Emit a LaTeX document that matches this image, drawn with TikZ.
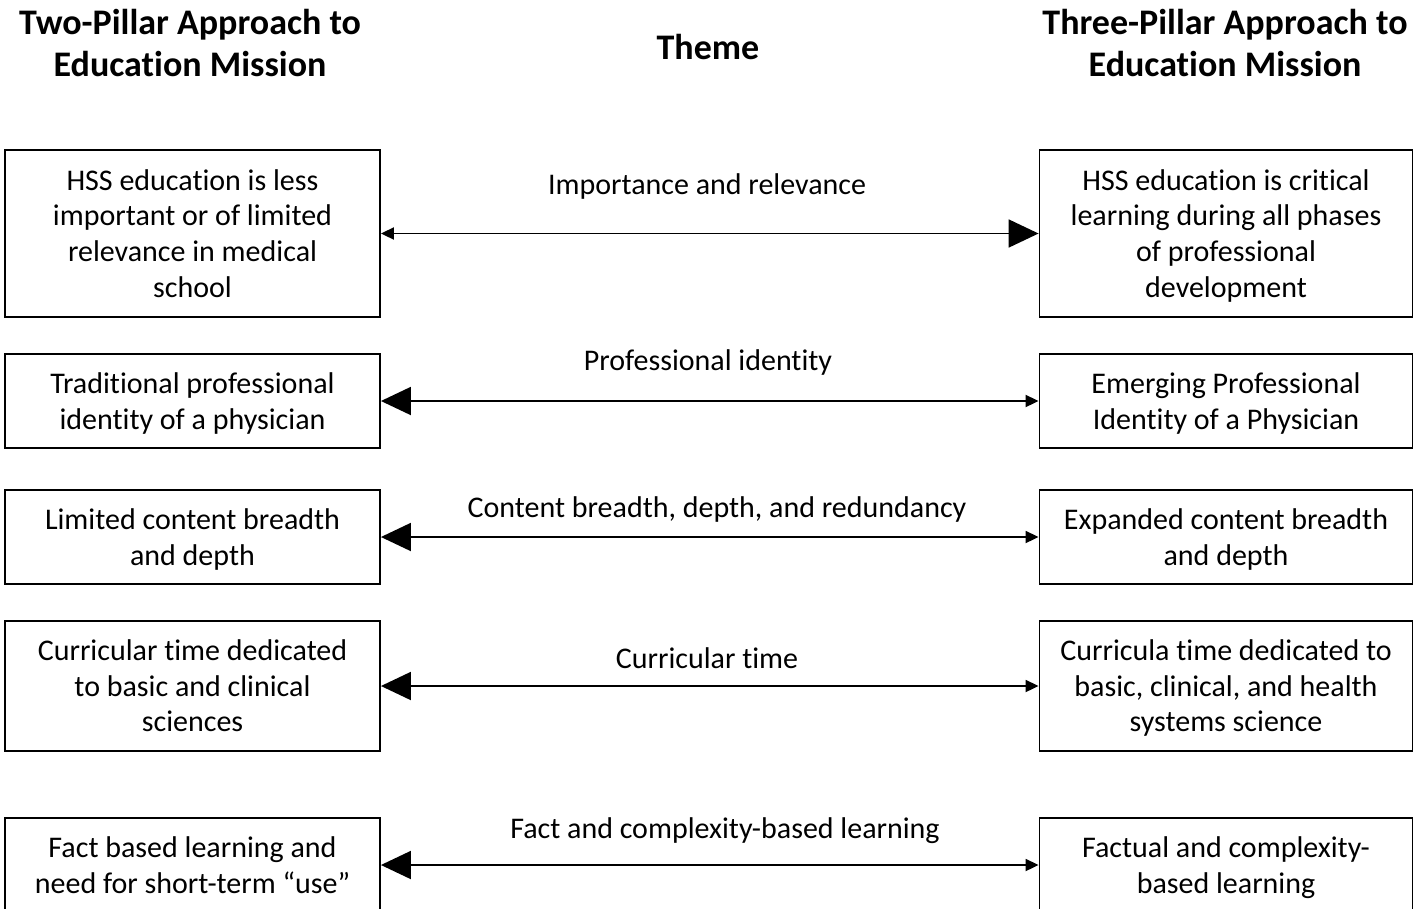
\documentclass[tikz,border=0pt]{standalone}
\usepackage{fontspec}
\setmainfont{Carlito}[Ligatures=NoCommon]
\usetikzlibrary{arrows.meta}
\begin{document}
\begin{tikzpicture}[x=0.75pt,y=-0.75pt,
  box/.style={draw, line width=1.4pt, align=center, inner sep=0pt,
    font=\fontsize{22.5}{26.8}\selectfont, text depth=0.3pt},
  lbox/.style={box, minimum width=281.25pt},
  rbox/.style={box, minimum width=279.75pt},
  header/.style={align=center, inner sep=0pt, font=\bfseries\fontsize{27}{31.5}\selectfont},
  theme/.style={inner sep=0pt, font=\fontsize{22.5}{27}\selectfont},
  link/.style={line width=1.4pt},
  toright/.style={link, arrows={Triangle[length=9.75pt,width=9pt]-Triangle[length=22.5pt,width=21pt]}},
  toleft/.style={link, arrows={Triangle[length=22.5pt,width=21pt]-Triangle[length=9.75pt,width=9pt]}}
]
\useasboundingbox (0,0) rectangle (1414,908);
\clip (0,0) rectangle (1414,908);

% column headers
\node[header] (hl) at (190,43) {Two-Pillar Approach to\\Education Mission};
\node[header] (hm) at (708,47) {Theme};
\node[header] (hr) at (1225,43) {Three-Pillar Approach to\\Education Mission};

% left column
\node[lbox, minimum height=125.25pt] (l1) at (192.5,233.5)
  {HSS education is less\\important or of limited\\relevance in medical\\school};
\node[lbox, minimum height=70.5pt] (l2) at (192.5,401)
  {Traditional professional\\identity of a physician};
\node[lbox, minimum height=70.5pt] (l3) at (192.5,537)
  {Limited content breadth\\and depth};
\node[lbox, minimum height=97.5pt] (l4) at (192.5,686)
  {Curricular time dedicated\\to basic and clinical\\sciences};
\node[lbox, minimum height=70.5pt] (l5) at (192.5,865)
  {Fact based learning and\\need for short-term “use”};

% right column
\node[rbox, minimum height=125.25pt] (r1) at (1226,233.5)
  {HSS education is critical\\learning during all phases\\of professional\\development};
\node[rbox, minimum height=70.5pt] (r2) at (1226,401)
  {Emerging Professional\\Identity of a Physician};
\node[rbox, minimum height=70.5pt] (r3) at (1226,537)
  {Expanded content breadth\\and depth};
\node[rbox, minimum height=97.5pt] (r4) at (1226,686)
  {Curricula time dedicated to\\basic, clinical, and health\\systems science};
\node[rbox, minimum height=70.5pt] (r5) at (1226,865)
  {Factual and complexity-\\based learning};

% themes
\node[theme] (t1) at (707,186) {Importance and relevance};
\node[theme] (t2) at (708,362) {Professional identity};
\node[theme] (t3) at (717,509) {Content breadth, depth, and redundancy};
\node[theme] (t4) at (707,658) {Curricular time};
\node[theme] (t5) at (725,831) {Fact and complexity-based learning};

% connectors
\draw[toright] (l1.east) -- (r1.west);
\draw[toleft] (l2.east) -- (r2.west);
\draw[toleft] (l3.east) -- (r3.west);
\draw[toleft] (l4.east) -- (r4.west);
\draw[toleft] (l5.east) -- (r5.west);
\end{tikzpicture}
\end{document}
